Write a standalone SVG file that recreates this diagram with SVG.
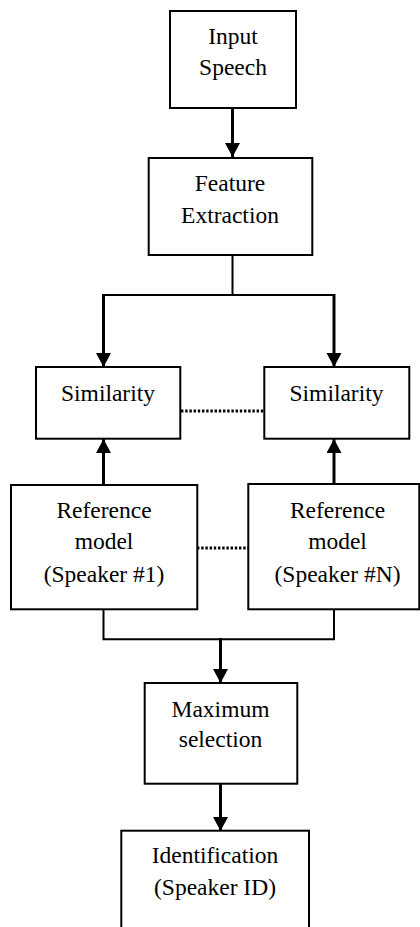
<svg xmlns="http://www.w3.org/2000/svg" width="420" height="927" viewBox="0 0 420 927">
<style>
.box{fill:#fff;stroke:#000;stroke-width:2}
.t{font-family:'Liberation Serif','Times New Roman',Times,'DejaVu Serif',serif;font-size:23.5px;fill:#000;text-anchor:middle}
.ln{fill:none;stroke:#000;stroke-width:2}
.ar{fill:none;stroke:#000;stroke-width:3;marker-end:url(#ah)}
.dot{fill:none;stroke:#000;stroke-width:3;stroke-dasharray:2.4 1.8}
</style>
<defs>
<marker id="ah" markerUnits="userSpaceOnUse" markerWidth="15" markerHeight="16" refX="14" refY="7.5" orient="auto">
<path d="M0,0 L14,7.5 L0,15 z" fill="#000"/>
</marker>
</defs>
<rect width="420" height="927" fill="#fff"/>
<g id="connectors">
<path class="ar" d="M232.5,108 V157"/>
<path class="ln" d="M232.5,255 V295 M103.5,295 H334"/>
<path class="ar" d="M103.5,294 V367"/>
<path class="ar" d="M334,294 V367"/>
<path class="dot" d="M181,411 H264"/>
<path class="ar" d="M103.5,485 V439"/>
<path class="ar" d="M334,484 V439"/>
<path class="dot" d="M197,548 H248"/>
<path class="ln" d="M103.5,609 V639.3 H334 V609"/>
<path class="ar" d="M220.5,638 V683"/>
<path class="ar" d="M220.5,784 V831"/>
</g>
<g id="input">
<rect class="box" x="170" y="11" width="126" height="97"/>
<text class="t" x="233" y="44" font-family="Liberation Serif, serif">Input</text>
<text class="t" x="233" y="75" font-family="Liberation Serif, serif">Speech</text>
</g>
<g id="feature">
<rect class="box" x="148.7" y="158" width="163.6" height="97"/>
<text class="t" x="230" y="191">Feature</text>
<text class="t" x="230" y="222.7">Extraction</text>
</g>
<g id="sim1">
<rect class="box" x="36" y="367" width="144.3" height="71.7"/>
<text class="t" x="108" y="400.7">Similarity</text>
</g>
<g id="simN">
<rect class="box" x="264.3" y="367" width="145" height="71.7"/>
<text class="t" x="336.5" y="400.7">Similarity</text>
</g>
<g id="ref1">
<rect class="box" x="11" y="485" width="186.3" height="124.3"/>
<text class="t" x="104" y="517.7">Reference</text>
<text class="t" x="104" y="549.3">model</text>
<text class="t" x="104" y="581.7">(Speaker #1)</text>
</g>
<g id="refN">
<rect class="box" x="248.3" y="484" width="171" height="125.3"/>
<text class="t" x="337.5" y="517.7">Reference</text>
<text class="t" x="337.5" y="549.3">model</text>
<text class="t" x="337.5" y="581.7">(Speaker #N)</text>
</g>
<g id="max">
<rect class="box" x="144.7" y="683" width="152.6" height="100.7"/>
<text class="t" x="220.5" y="716.7">Maximum</text>
<text class="t" x="220.5" y="747.3">selection</text>
</g>
<g id="ident">
<rect class="box" x="121.3" y="830.7" width="187.7" height="130"/>
<text class="t" x="215" y="863.3">Identification</text>
<text class="t" x="215" y="895.3">(Speaker ID)</text>
</g>
</svg>
